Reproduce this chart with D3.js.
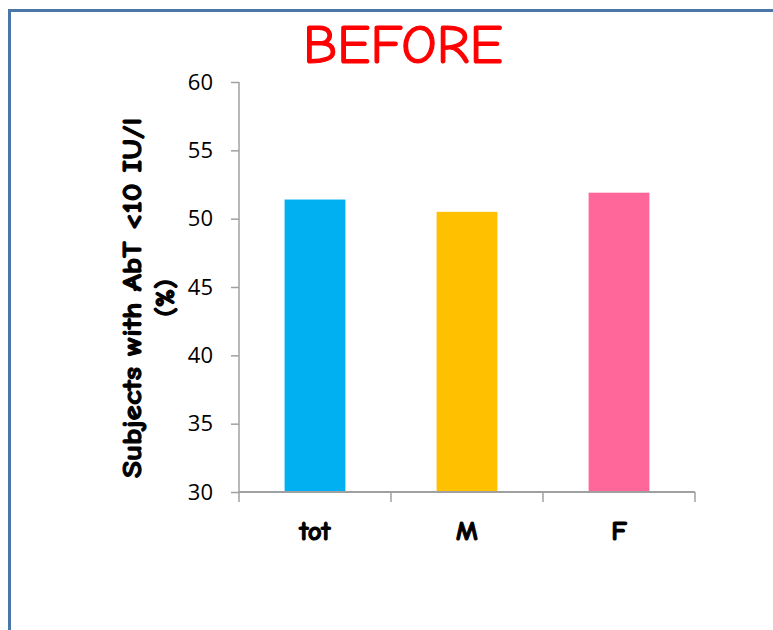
<!DOCTYPE html>
<html>
<head>
<meta charset="utf-8">
<script src="https://cdn.jsdelivr.net/npm/d3@7"></script>
<style>
  html, body { margin: 0; padding: 0; background: #fff; }
  svg { display: block; }
</style>
</head>
<body>
<svg id="chart" width="773" height="630"></svg>
<script>
// Share of subjects with AbT < 10 IU/l, by group
const categories = ["tot", "M", "F"];
const values = [51.4, 50.5, 51.9];
const barColors = ["#00b0f0", "#ffc000", "#ff6699"];
const yTicks = [30, 35, 40, 45, 50, 55, 60];

const svg = d3.select("#chart");
const W = 773, H = 630;
const margin = { left: 239, right: 78, top: 82, bottom: 138 };
const plotW = W - margin.left - margin.right;
const plotH = H - margin.top - margin.bottom;

const comic = "'Comic Sans MS', 'Comic Neue', 'DejaVu Sans', sans-serif";

// Outer frame
svg.append("rect")
  .attr("x", 9.5).attr("y", 10.5)
  .attr("width", W + 20).attr("height", H + 20)
  .attr("fill", "none")
  .attr("stroke", "#4a76a8")
  .attr("stroke-width", 3);

// Title
svg.append("text")
  .attr("x", 403).attr("y", 63)
  .attr("text-anchor", "middle")
  .attr("font-family", comic)
  .attr("font-size", 54)
  .attr("fill", "#ff0000")
  .attr("stroke", "#ff0000")
  .attr("stroke-width", 1.2)
  .attr("textLength", 200)
  .attr("lengthAdjust", "spacingAndGlyphs")
  .text("BEFORE");

const g = svg.append("g").attr("transform", `translate(${margin.left},${margin.top})`);

const x = d3.scaleBand().domain(categories).range([0, plotW]).paddingInner(0.6).paddingOuter(0.3);
const y = d3.scaleLinear().domain([30, 60]).range([plotH, 0]);

// Bars
g.selectAll("rect.bar")
  .data(categories)
  .join("rect")
  .attr("class", "bar")
  .attr("x", d => x(d))
  .attr("width", x.bandwidth())
  .attr("y", (d, i) => y(values[i]))
  .attr("height", (d, i) => y(30) - y(values[i]))
  .attr("fill", (d, i) => barColors[i]);

const axisColor = "#a0a0a0";

// Y axis
const yAxis = g.append("g")
  .call(d3.axisLeft(y).tickValues(yTicks).tickSize(8).tickPadding(18).tickFormat(d3.format("d")));
yAxis.select(".domain").attr("stroke", axisColor).attr("stroke-width", 1.5).attr("d", `M0,0V${plotH}`);
yAxis.selectAll(".tick line").attr("stroke", axisColor).attr("stroke-width", 1.5);
yAxis.selectAll(".tick text")
  .attr("font-family", "'Open Sans', 'Liberation Sans', sans-serif")
  .attr("font-size", 22)
  .attr("fill", "#000");

// X axis with boundary ticks between categories
const xg = g.append("g").attr("transform", `translate(0,${plotH})`);
xg.append("line")
  .attr("x1", 0).attr("x2", plotW)
  .attr("stroke", axisColor).attr("stroke-width", 2);
const step = plotW / categories.length;
xg.selectAll("line.sep")
  .data(d3.range(categories.length + 1))
  .join("line")
  .attr("class", "sep")
  .attr("x1", i => i * step).attr("x2", i => i * step)
  .attr("y1", 0).attr("y2", 10)
  .attr("stroke", axisColor).attr("stroke-width", 1.5);
xg.selectAll("text")
  .data(categories)
  .join("text")
  .attr("x", d => x(d) + x.bandwidth() / 2)
  .attr("y", 48)
  .attr("text-anchor", "middle")
  .attr("font-family", comic)
  .attr("font-weight", "bold")
  .attr("font-size", 27)
  .attr("fill", "#000")
  .attr("stroke", "#000")
  .attr("stroke-width", 1.1)
  .text(d => d);

// Y axis title (two lines)
const yTitle = svg.append("g")
  .attr("transform", "translate(141,298) rotate(-90)")
  .attr("font-family", comic)
  .attr("font-weight", "bold")
  .attr("font-size", 27)
  .attr("fill", "#000")
  .attr("stroke", "#000")
  .attr("stroke-width", 1.1);
yTitle.append("text")
  .attr("x", -180).attr("y", 0)
  .attr("textLength", 360)
  .attr("lengthAdjust", "spacingAndGlyphs")
  .text("Subjects with AbT <10 IU/l");
yTitle.append("text")
  .attr("x", 0).attr("y", 33)
  .attr("text-anchor", "middle")
  .text("(%)");
</script>
</body>
</html>
